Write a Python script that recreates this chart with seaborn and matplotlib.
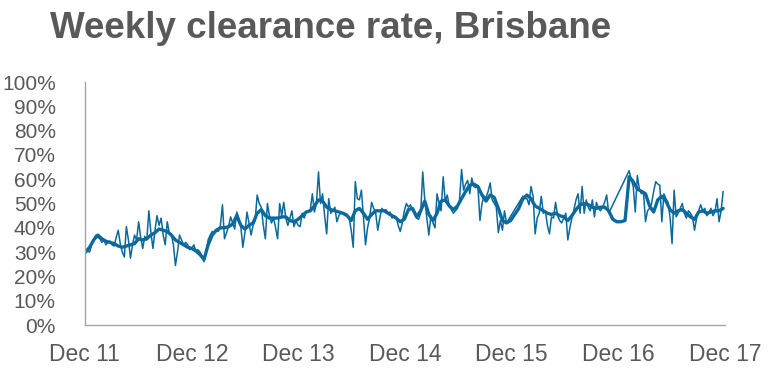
import matplotlib
matplotlib.use("Agg")
import matplotlib.pyplot as plt
from matplotlib.ticker import MultipleLocator, PercentFormatter
import numpy as np
import pandas as pd
import seaborn as sns

# weekly clearance rate (%), Dec 2011 -> Dec 2017, None = no auctions reported
weekly_2012 = [29.5, 30.5, 30, 33, 35, 37, 36, 35.5, 34, 35,
               33, 34, 34.5, 33, 32.5, 36, 39, 33.5, 30, 28,
               40.5, 35, 27.5, 33, 37, 35, 42.5, 36, 31.5, 36.5,
               35, 47, 38, 31.5, 39, 45, 41, 44, 37, 33,
               42.5, 38, 37.5, 33, 24.5, 30, 37, 35, 33, 34,
               33, 31]
weekly_2013 = [31.5, 33, 30.5, 31, 30, 28.5, 26, 30, 35, 37,
               38.5, 38, 39, 38.5, 41, 49.5, 35.5, 38, 40.5, 44.5,
               42, 39.5, 46.5, 44, 40.5, 32, 38, 46.5, 42, 37,
               41, 43, 53.5, 50, 48.5, 41, 35.5, 50, 45, 42,
               44, 40, 35.5, 50, 45, 50.5, 44, 41, 44, 47,
               40.5, 43]
weekly_2014 = [41, 40.5, 46, 44, 46.5, 47, 47.5, 54, 46.5, 50,
               63, 50, 54, 45, 37.5, 52, 46, 47, 48.5, 42.5,
               45, 46.5, 45.5, 46, 45.5, 44, 39, 32, 59, 52,
               51.5, 55.5, 44.5, 33, 40, 44, 50.5, 48, 46, 39,
               44, 48, 47, 47.5, 46, 46.5, 44, 45, 44.5, 41,
               38.5, 42]
weekly_2015 = [47, 50, 48.5, 49.5, 47, 46, 44, 43.5, 46, 63,
               51.5, 44, 37, 45, 42, 40, 54, 50, 47, 61,
               51, 53.5, 49, 47.5, 46, 47, 48, 51.5, 64, 55.5,
               58, 59.5, 54, 60.5, 57, 56.5, 57, 43, 50, 53,
               52.5, 55, 58.5, 51.5, 50, 48.5, 38, 43, 39, 47,
               42, None]
weekly_2016 = [None, None, None, None, None, None, 53, 52, 52, 49.5,
               57, 53, 37.5, 44, 46, 53,
               46, 47, 41, 37.5, 44.5, 44, 50.5, 45, 43, 42,
               44, 46, 35, 40, 44, 47.5, 51.5, 54, 46, 57,
               46, 51.5, 48.5, 47, 51.5, 44.5, 50.5, 48, 47, 48.5,
               50.5, 53.5, 46, None, None, None]
weekly_2017 = [None, None, None, None, None, None, 63.5, 60, 57, 46.5,
               61.5, 56, 54, 55, 42.5, 47,
               48, 50, 55, 59, 58, 57.5, 42.5, 54, 52, 50.5,
               44.5, 33.5, 55.5, 44.5, 46, 48, 50, 46, 44, 47,
               46, 44.5, 39, 44, 47, 49.5, 47, 48, 45, 46,
               48, 45, 46.5, 52, 42.5, 47, 55]

# smoothed rate (%), read every second week
smooth_vals = [30, 32, 35, 37, 35.5, 34.5, 34, 33.5, 32.5, 32, 32.5, 33, 33.5,
               35.5, 35, 35.5, 37, 38, 39.5, 39, 38.5, 37, 35, 34, 33, 32,
               31.5, 30.5, 29, 27, 33, 37, 39, 40, 40, 40.5, 41.5, 45, 41,
               39.5, 41, 42, 46, 47.5, 45, 44, 44, 44, 44.5, 44.5, 43, 42.5,
               43.5, 45, 46.5, 47, 49, 51.5, 51, 48.5, 47.5, 47, 46.5, 46, 45,
               43, 47, 48, 46, 43.5, 45.5, 47, 47, 47, 46, 45, 44, 42.5,
               43.5, 47.5, 48, 44.5, 47, 51, 45.5, 43, 46, 51, 51.5, 49, 47.5,
               49, 52, 55, 57.5, 58, 57, 53.5, 51, 53.5, 52.5, 48, 43, 42,
               43, 45.5, 48, 52, 53.5, 52, 49, 48, 47, 46, 45.5, 46, 45,
               44.5, 43, 45, 47.5, 49.5, 50, 49.5, 48.5, 48, 48.5, 48.5, 47,
               43.5, 42.5, 42.5, 43, 61, 59, 56, 55, 54, 49, 46.5, 51.5, 53,
               51, 47.5, 46, 47, 47.5, 46, 44.5, 43.5, 46.5, 47, 46, 46.5, 47,
               47, 48]

tick_years = [2011, 2012, 2013, 2014, 2015, 2016, 2017]
tick_labels = ["Dec 11", "Dec 12", "Dec 13", "Dec 14", "Dec 15", "Dec 16", "Dec 17"]

LINE = "#0b6a9b"
GREY = "#595959"

weekly_vals = weekly_2012 + weekly_2013 + weekly_2014 + weekly_2015 + weekly_2016 + weekly_2017
weeks = pd.date_range("2011-12-03", periods=len(weekly_vals), freq="7D")
weekly = pd.DataFrame({"date": weeks, "rate": pd.to_numeric(pd.Series(weekly_vals))}).dropna()
smooth = pd.DataFrame({"date": weeks[::2][:len(smooth_vals)], "rate": smooth_vals})

sns.set_theme(style="white")
plt.rcParams["font.family"] = ["Liberation Sans", "DejaVu Sans"]

fig = plt.figure(figsize=(7.72, 3.75), dpi=100)
ax = fig.add_axes([0.110, 0.1333, 0.829, 0.648])

sns.lineplot(data=weekly, x="date", y="rate", ax=ax, color=LINE, linewidth=1.1)
sns.lineplot(data=smooth, x="date", y="rate", ax=ax, color=LINE, linewidth=2.4)

ax.set_ylim(0, 100)
ax.set_xlim(pd.Timestamp("2011-12-01"), pd.Timestamp("2017-12-01"))
ax.yaxis.set_major_locator(MultipleLocator(10))
ax.yaxis.set_major_formatter(PercentFormatter(decimals=0))
ax.set_xticks([pd.Timestamp(f"{y}-12-01") for y in tick_years])
ax.set_xticklabels(tick_labels)
ax.set_xlabel("")
ax.set_ylabel("")

for side in ["top", "right"]:
    ax.spines[side].set_visible(False)
for side in ["left", "bottom"]:
    ax.spines[side].set_color("#a6a6a6")
    ax.spines[side].set_linewidth(1.0)
ax.tick_params(axis="both", which="major", direction="out", length=5, width=1,
               color="#a6a6a6", labelcolor=GREY)
ax.tick_params(axis="y", labelsize=15, pad=16)
ax.tick_params(axis="x", labelsize=16.5, pad=8)

fig.text(0.065, 0.925, "Weekly clearance rate, Brisbane", fontsize=26.5, fontweight="bold",
         color=GREY, ha="left", va="center")

plt.savefig("out.png", dpi=100)
plt.close()
